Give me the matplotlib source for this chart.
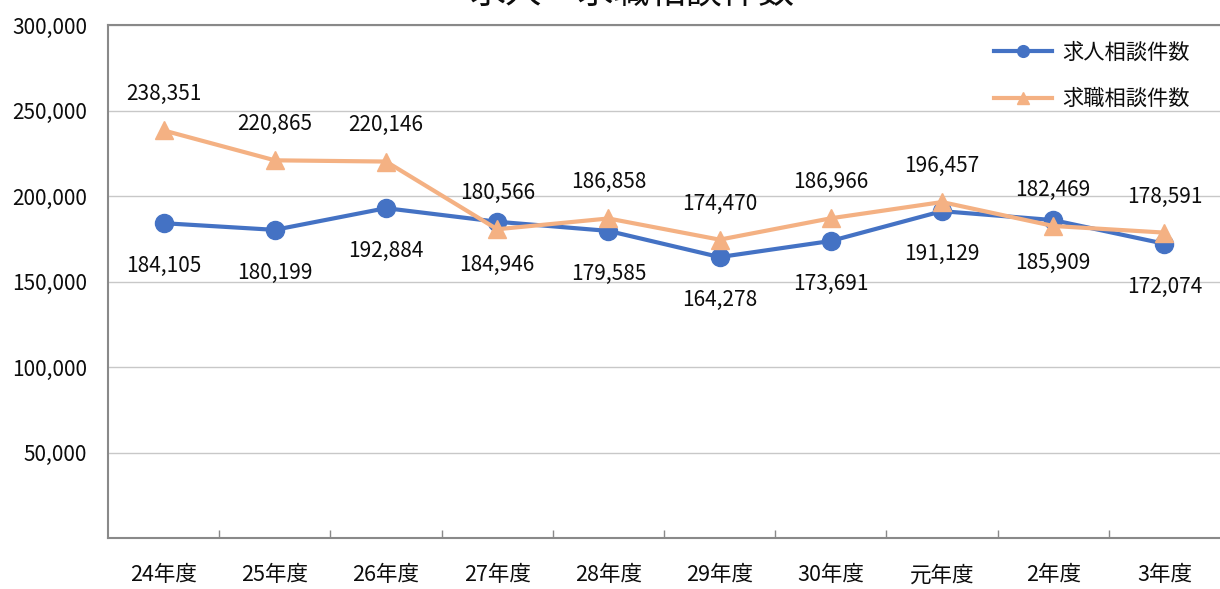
import matplotlib
matplotlib.use('Agg')
import matplotlib.pyplot as plt
from matplotlib.ticker import FuncFormatter, FixedLocator

plt.rcParams['font.family'] = ['Noto Sans CJK JP', 'DejaVu Sans']

# data
years = ['24年度', '25年度', '26年度', '27年度', '28年度',
         '29年度', '30年度', '元年度', '2年度', '3年度']
kyujin = [184105, 180199, 192884, 184946, 179585,
          164278, 173691, 191129, 185909, 172074]
kyushoku = [238351, 220865, 220146, 180566, 186858,
            174470, 186966, 196457, 182469, 178591]
yticks = [0, 50000, 100000, 150000, 200000, 250000, 300000]

blue = '#4472C4'
orange = '#F4B183'
axis_grey = '#898989'
grid_grey = '#C8C8C8'
txt = '#0d0d0d'

fig = plt.figure(figsize=(12.2, 5.89), dpi=100)
ax = fig.add_axes([108 / 1220, 51 / 589, 1 - 108 / 1220, (538 - 25) / 589])

x = list(range(len(years)))

ax.plot(x, kyujin, color=blue, lw=3, marker='o', ms=13,
        label='求人相談件数', zorder=3)
ax.plot(x, kyushoku, color=orange, lw=3, marker='^', ms=13,
        label='求職相談件数', zorder=4)

for xi, v in zip(x, kyujin):
    ax.annotate(f'{v:,}', (xi, v), xytext=(0, -31), textcoords='offset points',
                ha='center', va='center', fontsize=15, color=txt)
for xi, v in zip(x, kyushoku):
    ax.annotate(f'{v:,}', (xi, v), xytext=(0, 26), textcoords='offset points',
                ha='center', va='center', fontsize=15, color=txt)

ax.set_xlim(-0.5, len(years) - 0.5)
ax.set_ylim(0, 300000)
ax.set_yticks(yticks)
ax.yaxis.set_major_formatter(FuncFormatter(lambda v, p: '' if v == 0 else f'{int(v):,}'))
ax.tick_params(axis='y', length=0, pad=15, labelsize=15, labelcolor=txt)

ax.set_xticks(x)
ax.set_xticklabels(years)
ax.xaxis.set_minor_locator(FixedLocator([i + 0.5 for i in x[:-1]]))
ax.tick_params(axis='x', which='major', length=0, pad=19, labelsize=15.5,
               labelcolor=txt)
ax.tick_params(axis='x', which='minor', direction='in', length=6,
               width=1, color=axis_grey)

ax.grid(axis='y', color=grid_grey, lw=1)
ax.set_axisbelow(True)

for side in ['left', 'bottom', 'top']:
    ax.spines[side].set_color(axis_grey)
    ax.spines[side].set_linewidth(1.5)
ax.spines['right'].set_visible(False)

ax.legend(loc='upper right', bbox_to_anchor=(0.99, 1.005), frameon=False,
          fontsize=15.3, handlelength=2.7, handletextpad=0.5,
          labelspacing=1.15, markerscale=0.65, labelcolor=txt)

fig.text(632 / 1220, 1 - 4 / 589, '求人・求職相談件数', ha='center', va='baseline',
         fontsize=26, color=txt)

fig.savefig('out.png', dpi=100)
